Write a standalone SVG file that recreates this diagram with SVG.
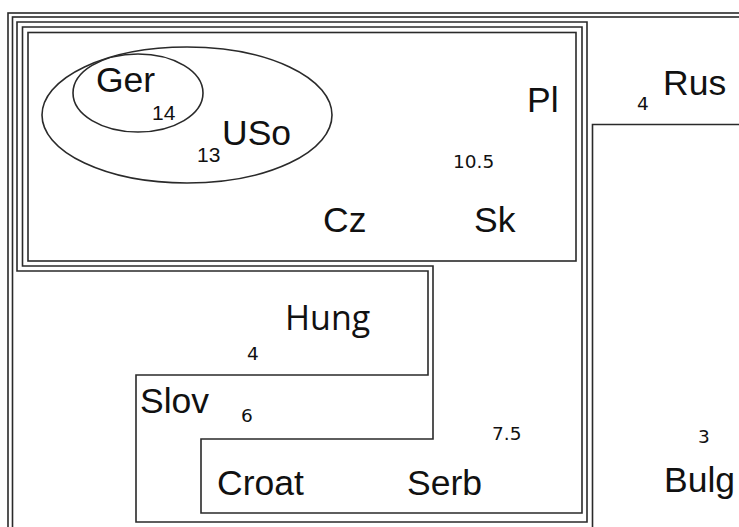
<svg xmlns="http://www.w3.org/2000/svg" width="739" height="527" viewBox="0 0 739 527">
  <style>
    .b { fill: none; stroke: #2a2a2a; stroke-width: 1.6; }
    .lbl { font-family: "Liberation Sans", Arial, sans-serif; font-size: 35.5px; fill: #111; }
    .lbl2 { font-family: "Open Sans", "Noto Sans", sans-serif; font-size: 34px; fill: #111; }
    .num { font-family: "DejaVu Sans", Verdana, sans-serif; font-size: 18.5px; fill: #111; }
    .num2 { font-family: "Liberation Sans", Arial, sans-serif; font-size: 21px; fill: #111; }
  </style>
  <rect width="739" height="527" fill="#fff"/>

  <!-- outer frames (run off the canvas) -->
  <g id="outer">
    <rect class="b" x="8" y="13" width="760" height="540"/>
    <rect class="b" x="12.5" y="17" width="760" height="540"/>
  </g>

  <!-- Bulg region -->
  <g id="bulg">
    <path class="b" d="M592.5 540 V124.5 H760"/>
    <text class="num" x="698" y="443">3</text>
    <text class="lbl" x="664" y="492">Bulg</text>
  </g>

  <!-- Rus labels -->
  <g id="rus">
    <text class="num" x="637" y="110">4</text>
    <text class="lbl" x="663" y="95">Rus</text>
  </g>

  <!-- outer L-shaped set (Slov side) -->
  <g id="set-slov">
    <path class="b" d="M17 22 H587 V522 H136 V375 H428 V271 H17 Z"/>
    <text class="lbl" x="140" y="413">Slov</text>
    <text class="num" x="241" y="422">6</text>
  </g>

  <!-- inner L-shaped set (Croat/Serb side) -->
  <g id="set-croat">
    <path class="b" d="M22.5 27 H582 V513 H201 V439 H433 V266 H22.5 Z"/>
    <text class="num" x="492" y="440">7.5</text>
    <text class="lbl" x="217" y="495">Croat</text>
    <text class="lbl" x="407" y="495">Serb</text>
  </g>

  <!-- Hung -->
  <g id="hung">
    <text class="lbl2" x="285" y="330">Hung</text>
    <text class="num" x="247" y="360">4</text>
  </g>

  <!-- Pl / Cz / Sk box -->
  <g id="box-pl">
    <rect class="b" x="28" y="32.5" width="548" height="228.5"/>
    <text class="lbl" x="527" y="112">Pl</text>
    <text class="num" x="453" y="168">10.5</text>
    <text class="lbl" x="323" y="232">Cz</text>
    <text class="lbl" x="474" y="232">Sk</text>
  </g>

  <!-- USo ellipse -->
  <g id="uso">
    <ellipse class="b" cx="187" cy="115" rx="145" ry="68"/>
    <text class="lbl" x="222" y="145">USo</text>
    <text class="num2" x="197" y="162">13</text>
  </g>

  <!-- Ger ellipse -->
  <g id="ger">
    <ellipse class="b" cx="138" cy="93" rx="65" ry="39"/>
    <text class="lbl" x="96" y="92">Ger</text>
    <text class="num2" x="152" y="120">14</text>
  </g>

  <g id="connectors"/>
</svg>
